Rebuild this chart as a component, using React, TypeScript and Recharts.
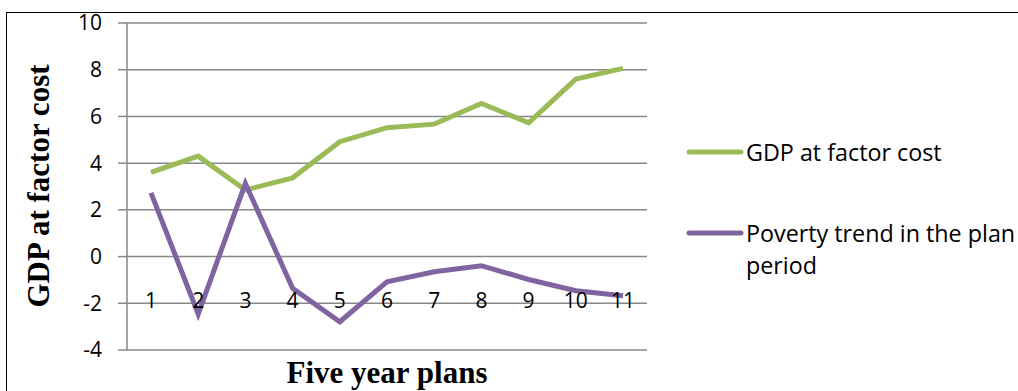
import React from 'react';
import { LineChart, Line, XAxis, YAxis, CartesianGrid } from 'recharts';

const plans = ['1', '2', '3', '4', '5', '6', '7', '8', '9', '10', '11'];
const gdpValues = [3.6, 4.3, 2.85, 3.37, 4.92, 5.52, 5.67, 6.56, 5.73, 7.6, 8.06];
const povertyValues = [2.73, -2.46, 3.13, -1.36, -2.79, -1.08, -0.65, -0.39, -0.98, -1.46, -1.68];
const yTicks = [-4, -2, 0, 2, 4, 6, 8, 10];

const GDP_NAME = 'GDP at factor cost';
const POV_LINE1 = 'Poverty trend in the plan';
const POV_LINE2 = 'period';

const data = plans.map((p, i) => ({ plan: p, gdp: gdpValues[i], poverty: povertyValues[i] }));

const FONT = '"Open Sans", Lato, sans-serif';
const FS = 21;
const LFS = 23.3;
const GREEN = '#9BBB59';
const PURPLE = '#8064A2';
const GRID = '#878787';
const SERIF = '"Liberation Serif", "Times New Roman", serif';

const XTick = (props: any) => {
  const { x, y, payload } = props;
  return (
    <text x={x} y={y - 50} textAnchor="middle" dominantBaseline="central" fontFamily={FONT} fontSize={FS} fill="#000">
      {payload.value}
    </text>
  );
};

export default function App() {
  return (
    <div style={{ position: 'absolute', left: 0, top: 0, width: 1018, height: 391, background: '#fff', overflow: 'hidden' }}>
      <svg width={1018} height={391} style={{ position: 'absolute', left: 0, top: 0 }}>
        <rect x={6.5} y={12.5} width={1100} height={500} fill="none" stroke="#000" strokeWidth={1} />
      </svg>
      <div style={{ position: 'absolute', left: 0, top: 0 }}>
        <LineChart width={1018} height={391} data={data} margin={{ top: 23, right: 371, bottom: 40, left: 67 }}>
          <CartesianGrid horizontal vertical={false} stroke={GRID} strokeWidth={1.5} />
          <XAxis
            dataKey="plan"
            axisLine={false}
            tickLine={false}
            tickSize={0}
            tickMargin={0}
            height={1}
            padding={{ left: 24, right: 24 }}
            tick={<XTick />}
            interval={0}
          />
          <YAxis
            width={60}
            domain={[-4, 10]}
            ticks={yTicks}
            interval={0}
            axisLine={{ stroke: GRID, strokeWidth: 1.5 }}
            tickLine={{ stroke: GRID, strokeWidth: 1.5 }}
            tickSize={9}
            tickMargin={16}
            tick={{ fill: '#000', fontSize: FS, fontFamily: FONT }}
          />
          <Line type="linear" dataKey="gdp" name={GDP_NAME} stroke={GREEN} strokeWidth={5} dot={false} isAnimationActive={false} />
          <Line type="linear" dataKey="poverty" name={`${POV_LINE1} ${POV_LINE2}`} stroke={PURPLE} strokeWidth={5} dot={false} isAnimationActive={false} />
        </LineChart>
      </div>
      <svg width={1018} height={391} style={{ position: 'absolute', left: 0, top: 0, pointerEvents: 'none' }}>
        <line x1={689} y1={152} x2={741} y2={152} stroke={GREEN} strokeWidth={5} strokeLinecap="round" />
        <text x={746} y={152} dominantBaseline="central" fontFamily={FONT} fontSize={LFS} fill="#000">{GDP_NAME}</text>
        <line x1={689} y1={233} x2={741} y2={233} stroke={PURPLE} strokeWidth={5} strokeLinecap="round" />
        <text x={746} y={233} dominantBaseline="central" fontFamily={FONT} fontSize={LFS} fill="#000">{POV_LINE1}</text>
        <text x={746} y={265} dominantBaseline="central" fontFamily={FONT} fontSize={LFS} fill="#000">{POV_LINE2}</text>
        <text
          x={38}
          y={186}
          transform="rotate(-90 38 186)"
          textAnchor="middle"
          dominantBaseline="central"
          fontFamily={SERIF}
          fontWeight="bold"
          fontSize={31}
          fill="#000"
        >
          GDP at factor cost
        </text>
        <text x={387} y={383} textAnchor="middle" fontFamily={SERIF} fontWeight="bold" fontSize={31} fill="#000">
          Five year plans
        </text>
      </svg>
    </div>
  );
}
